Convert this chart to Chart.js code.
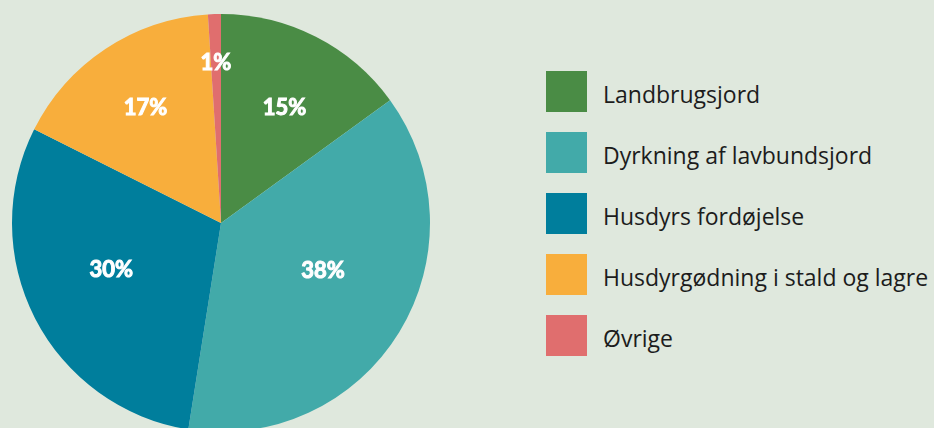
<!DOCTYPE html>
<html>
<head>
<meta charset="utf-8">
<script src="https://cdn.jsdelivr.net/npm/chart.js@4"></script>
<style>
    html, body {
        margin: 0;
        padding: 0;
        width: 934px;
        height: 428px;
        overflow: hidden;
        background: #dfe8dd;
    }
    #pieWrap {
        position: absolute;
        left: 0;
        top: 0;
    }
    #legend {
        position: absolute;
        left: 546px;
        top: 71px;
        font-family: "Open Sans", sans-serif;
        font-size: 23px;
        color: #1c1c1c;
    }
    .legend-item {
        display: flex;
        align-items: center;
        height: 41px;
        margin-bottom: 20px;
    }
    .legend-box {
        width: 41px;
        height: 41px;
        margin-right: 16px;
        flex: none;
    }
    .legend-text {
        position: relative;
        top: 2px;
        white-space: nowrap;
    }
</style>
</head>
<body>
<div id="pieWrap"><canvas id="pie" width="442" height="446"></canvas></div>
<div id="legend"></div>
<script>
// Chart data
const categories = [
    'Landbrugsjord',
    'Dyrkning af lavbundsjord',
    'Husdyrs fordøjelse',
    'Husdyrgødning i stald og lagre',
    'Øvrige'
];
const shares = [15.0, 37.5, 29.9, 16.6, 1.0];
const sliceColors = ['#4a8c45', '#42aaa9', '#007e9c', '#f8ae3c', '#e06e6e'];

// Draws the white percentage labels inside each slice
const sliceLabels = {
    id: 'sliceLabels',
    afterDatasetsDraw(chart, args, opts) {
        const ctx = chart.ctx;
        const meta = chart.getDatasetMeta(0);
        ctx.save();
        ctx.fillStyle = '#ffffff';
        ctx.font = 'bold 22px Lato, sans-serif';
        ctx.textAlign = 'center';
        ctx.textBaseline = 'middle';
        meta.data.forEach(function(arc, i) {
            const p = arc.getProps(['x', 'y', 'startAngle', 'endAngle', 'outerRadius'], true);
            const mid = (p.startAngle + p.endAngle) / 2 + (opts.shift[i] || 0) * Math.PI / 180;
            const r = p.outerRadius * (opts.radius[i] || 0.6);
            const value = chart.data.datasets[0].data[i];
            const x = p.x + Math.cos(mid) * r;
            const y = p.y + Math.sin(mid) * r;
            // fake a heavier weight with a thin stroke
            ctx.strokeStyle = '#ffffff';
            ctx.lineWidth = 1;
            ctx.strokeText(Math.round(value) + '%', x, y);
            ctx.fillText(Math.round(value) + '%', x, y);
        });
        ctx.restore();
    }
};

new Chart(document.getElementById('pie'), {
    type: 'pie',
    data: {
        labels: categories,
        datasets: [{
            data: shares,
            backgroundColor: sliceColors,
            borderWidth: 0
        }]
    },
    options: {
        responsive: false,
        animation: false,
        layout: {
            padding: { left: 12, right: 12, top: 14, bottom: 14 }
        },
        plugins: {
            legend: { display: false },
            tooltip: { enabled: false },
            sliceLabels: {
                radius: [0.631, 0.539, 0.571, 0.66, 0.764],
                shift: [1.8, -6.3, 3.9, 0.3, 0]
            }
        }
    },
    plugins: [sliceLabels]
});

// HTML legend built from the same arrays
const legendEl = document.getElementById('legend');
categories.forEach(function(name, i) {
    const item = document.createElement('div');
    item.className = 'legend-item';
    const box = document.createElement('div');
    box.className = 'legend-box';
    box.style.background = sliceColors[i];
    const text = document.createElement('span');
    text.className = 'legend-text';
    text.textContent = name;
    item.appendChild(box);
    item.appendChild(text);
    legendEl.appendChild(item);
});
</script>
</body>
</html>
